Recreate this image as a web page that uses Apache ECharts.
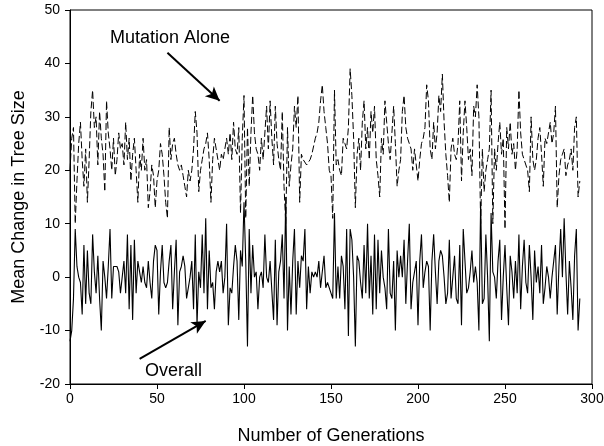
<!DOCTYPE html>
<html>
<head>
<meta charset="utf-8">
<script src="https://cdn.jsdelivr.net/npm/echarts@6/dist/echarts.min.js"></script>
<style>html,body{margin:0;padding:0;background:#fff}#c{width:604px;height:446px}</style>
</head>
<body>
<div id="c"></div>
<script>
// Mean change in tree size per generation
const overall = [
 -12,-10,-4,9,2,0,-1,-7,6,-5, 5,-3,-5,8,1,-3,4,-4,-10,3,
 0,-4,2,9,-4,2,2,2,1,-3, -3,3,-3,8,-6,6,-8,7,-3,3,
 1,-1,2,-1,-2,3,-1,-4,3,6,
 5,-7,1,6,-1,-2,-1,3,6,-6, 1,7,-9,1,2,4,2,-4,-2,0,
 3,-6,8,-9,1,-2,8,-3,11,-6, 5,-2,-1,-6,1,3,1,3,-3,0,
 10,-9,-2,-3,2,6,3,-8,5,2,
 14,3,-13,9,-3,6,0,1,-6,0, 1,-2,8,0,-1,3,3,-8,7,-9,
 1,3,8,-4,15,-10,2,-7,3,9, -7,3,-2,4,3,9,-6,2,-3,1,
 0,1,0,3,-2,1,4,-2,-1,-1,
 -3,-4,12,-4,2,-4,4,2,-6,9, -11,9,7,0,-13,4,3,-1,-4,6,
 -3,10,-4,4,-7,8,-6,7,-3,5, 0,-2,-6,9,-3,-4,3,-10,5,0,
 4,0,7,-5,3,10,-6,-1,1,3,
 -9,3,8,-2,1,3,2,-10,3,8, 1,-5,3,5,4,0,-5,-3,7,-4,
 0,4,-4,-5,6,-9,9,3,-3,-2, 1,5,-1,2,-1,-10,14,-5,-4,8,
 0,-12,12,1,0,-4,3,7,-8,0,
 6,-2,-9,4,1,-4,3,-3,8,-6, 2,7,-1,-3,6,0,-8,5,-1,2,
 -3,6,-5,-2,2,0,-4,0,3,6, -7,2,9,0,11,1,-7,3,-2,-8,
 4,9,-10,-4
];
const mutationAlone = [
 20,26,28,10,18,25,29,22,17,24, 14,22,31,35,28,30,21,31,26,23,
 16,33,27,24,20,26,19,22,27,24, 25,21,29,22,26,18,23,26,20,14,
 23,20,26,20,22,13,16,21,19,13,
 18,20,25,23,19,14,11,28,22,25, 26,23,21,20,21,19,17,15,20,18,
 20,24,31,27,16,20,22,24,25,27, 22,14,22,26,24,22,20,23,22,24,
 26,23,27,22,29,24,23,28,12,26,
 34,11,28,17,27,34,27,24,23,20, 26,22,22,32,24,33,26,21,32,25,
 22,20,31,17,10,28,17,21,24,32, 28,34,14,23,22,22,21,21,22,23,
 23,26,27,29,33,36,31,28,25,20,
 19,11,35,21,22,20,19,26,25,24, 28,39,34,26,13,23,26,20,29,33,
 24,28,22,31,27,32,22,19,15,26, 23,33,29,25,22,27,32,25,17,20,
 22,31,34,28,26,26,24,20,24,21,
 18,22,25,26,28,36,33,24,22,29, 24,27,34,31,38,29,23,19,14,24,
 26,23,22,25,33,18,27,33,28,22, 24,19,32,30,36,30,10,24,16,20,
 22,24,35,10,24,20,25,29,23,26,
 9,28,24,29,23,25,20,24,35,27, 23,22,22,20,16,30,22,20,22,26,
 28,23,17,26,25,27,29,25,27,32, 13,19,22,23,24,19,21,22,24,20,
 28,30,15,18
];
const xTicks = { min: 0, max: 300, step: 50 };
const yTicks = { min: -20, max: 50, step: 10 };
const labels = { top: 'Mutation Alone', bottom: 'Overall', x: 'Number of Generations', y: 'Mean Change in Tree Size' };
// annotation arrows in data units [generation, value]
const arrowTop = [[56, 42], [86, 33]];
const arrowBottom = [[40, -15.3], [78, -8.2]];

const font = 'Liberation Sans, Arial, sans-serif';
const chart = echarts.init(document.getElementById('c'), null, { renderer: 'canvas' });
const toPairs = arr => arr.map((v, i) => [i, v]);

chart.setOption({
  animation: false,
  backgroundColor: '#fff',
  grid: { left: 70, right: 12, top: 10, bottom: 62, show: true, borderColor: '#000', borderWidth: 1,
          backgroundColor: 'transparent', containLabel: false, outerBoundsMode: 'none' },
  xAxis: {
    type: 'value', min: xTicks.min, max: xTicks.max, interval: xTicks.step,
    name: labels.x, nameLocation: 'middle', nameGap: 43,
    nameTextStyle: { fontFamily: font, fontSize: 18, color: '#000' },
    axisLine: { onZero: false, lineStyle: { color: '#000', width: 1 } },
    axisTick: { inside: false, length: 5, lineStyle: { color: '#000' } },
    axisLabel: { margin: 8, fontFamily: font, fontSize: 14, color: '#000' },
    splitLine: { show: false }
  },
  yAxis: {
    type: 'value', min: yTicks.min, max: yTicks.max, interval: yTicks.step,
    name: labels.y, nameLocation: 'middle', nameGap: 42, nameRotate: 90,
    nameTextStyle: { fontFamily: font, fontSize: 18, color: '#000' },
    axisLine: { show: true, onZero: false, lineStyle: { color: '#000', width: 1 } },
    axisTick: { show: true, inside: false, length: 5, lineStyle: { color: '#000' } },
    axisLabel: { margin: 10, fontFamily: font, fontSize: 14, color: '#000' },
    splitLine: { show: false }
  },
  series: [
    {
      name: labels.top, type: 'line', data: toPairs(mutationAlone), showSymbol: false, symbol: 'none',
      lineStyle: { color: '#000', width: 1, type: [7, 3] }, z: 2
    },
    {
      name: labels.bottom, type: 'line', data: toPairs(overall), showSymbol: false, symbol: 'none',
      lineStyle: { color: '#000', width: 1.1 }, z: 3,
      markLine: {
        silent: true, symbol: ['none', 'arrow'], symbolSize: [10, 14],
        label: { show: false },
        lineStyle: { color: '#000', width: 2, type: 'solid' },
        data: [
          [{ coord: arrowTop[0] }, { coord: arrowTop[1] }],
          [{ coord: arrowBottom[0] }, { coord: arrowBottom[1] }]
        ]
      }
    }
  ],
  graphic: [
    { type: 'text', left: 110, top: 29, style: { text: labels.top, font: '18px ' + font, fill: '#000' } },
    { type: 'text', left: 145, top: 362, style: { text: labels.bottom, font: '18px ' + font, fill: '#000' } }
  ]
});
</script>
</body>
</html>
